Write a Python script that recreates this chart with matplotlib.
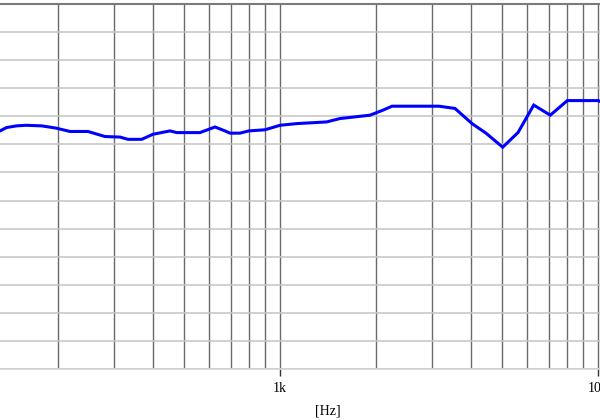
import numpy as np
import matplotlib.pyplot as plt
from matplotlib.ticker import FixedLocator, NullFormatter

# 周波数特性
freq = [131.7, 138.2, 148.6, 158.9, 178.0, 197.5, 218.6, 248.9, 281.6, 314.0,
        332.7, 367.4, 398.7, 450.9, 473.3, 560.3, 624.7, 671.5, 696.5, 748.3,
        797.4, 897.0, 1000, 1128, 1402, 1544, 1919, 2108, 2250, 3162,
        3551, 4017, 4444, 5016, 5603, 6279, 7079, 8008, 10020, 10520]
level = [82.4, 83.0, 83.3, 83.4, 83.3, 82.9, 82.3, 82.3, 81.4, 81.3,
         80.9, 80.9, 81.8, 82.4, 82.1, 82.1, 83.1, 82.4, 82.0, 82.0,
         82.4, 82.6, 83.4, 83.7, 84.0, 84.6, 85.2, 86.1, 86.8, 86.8,
         86.4, 83.7, 82.0, 79.5, 82.1, 87.0, 85.2, 87.8, 87.8, 87.2]

major_f = [1000, 10000]
major_lbl = ['1k', '10k']
minor_f = [200, 300, 400, 500, 600, 700, 800, 900,
           2000, 3000, 4000, 5000, 6000, 7000, 8000, 9000]
y_grid = np.arange(40, 106, 5)

fig = plt.figure(figsize=(6, 4.2), dpi=100)
ax = fig.add_axes([0, 51 / 420, 1, 365 / 420])

ax.plot(freq, level, color='#0000ff', lw=2.2, solid_joinstyle='miter')

ax.set_xscale('log')
ax.set_xlim(131.7, 10146)
ax.set_ylim(40, 105)

ax.xaxis.set_major_locator(FixedLocator(major_f))
ax.xaxis.set_minor_locator(FixedLocator(minor_f))
ax.xaxis.set_minor_formatter(NullFormatter())
ax.set_xticklabels(major_lbl, family='Liberation Serif', fontsize=10)
ax.tick_params(axis='x', which='major', length=5, width=1, color='#333333',
               direction='out', pad=4)
ax.tick_params(axis='x', which='minor', length=0)
ax.set_yticks(y_grid)
ax.set_yticklabels([])
ax.tick_params(axis='y', length=0)

# グリッド
ax.grid(True, axis='x', which='both', color='#6a6a6a', lw=1.0)
ax.grid(True, axis='y', which='major', color='#c4c4c4', lw=1.1)
ax.set_axisbelow(True)

for s in ['left', 'right']:
    ax.spines[s].set_visible(False)
ax.spines['top'].set_color('#7a7a7a')
ax.spines['top'].set_linewidth(1.5)
ax.spines['bottom'].set_color('#d0d0d0')
ax.spines['bottom'].set_linewidth(1.1)

fig.text(328 / 600, 1 - 411 / 420, '[Hz]', ha='center', va='center',
         family='Liberation Serif', fontsize=10)

fig.savefig('out.png', dpi=100, facecolor='white')
